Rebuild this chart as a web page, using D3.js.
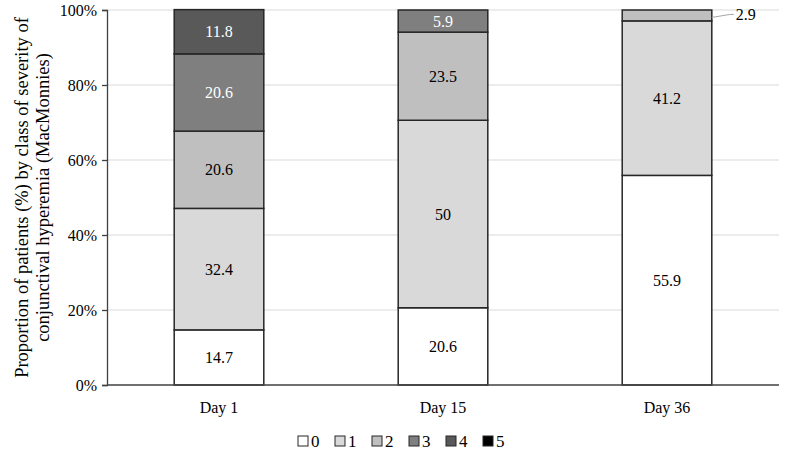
<!DOCTYPE html>
<html>
<head>
<meta charset="utf-8">
<script src="https://cdn.jsdelivr.net/npm/d3@7"></script>
<style>
  body { margin: 0; background: #fff; }
  svg text { font-family: "Liberation Serif", "DejaVu Serif", serif; }
</style>
</head>
<body>
<svg id="chart"></svg>
<script>
// chart data
const days = ["Day 1", "Day 15", "Day 36"];
const classes = ["0", "1", "2", "3", "4", "5"];
const class0 = [14.7, 20.6, 55.9];
const class1 = [32.4, 50, 41.2];
const class2 = [20.6, 23.5, 2.9];
const class3 = [20.6, 5.9, 0];
const class4 = [11.8, 0, 0];
const class5 = [0, 0, 0];
const yTicks = [0, 20, 40, 60, 80, 100];

const fills = ["#ffffff", "#d9d9d9", "#bfbfbf", "#7f7f7f", "#595959", "#000000"];
const labelColors = ["#000", "#000", "#000", "#fff", "#fff", "#fff"];

const width = 785, height = 454;
const marginLeft = 107, marginRight = 6, marginTop = 10, marginBottom = 69;
const fs = 16;

const rows = days.map((d, i) => ({
  day: d,
  "0": class0[i], "1": class1[i], "2": class2[i],
  "3": class3[i], "4": class4[i], "5": class5[i]
}));

const series = d3.stack().keys(classes)(rows);

const x = d3.scaleBand()
  .domain(days)
  .range([marginLeft, width - marginRight])
  .paddingInner(0.6)
  .paddingOuter(0.3);

const y = d3.scaleLinear()
  .domain([0, 100])
  .range([height - marginBottom, marginTop]);

const svg = d3.select("#chart")
  .attr("width", width)
  .attr("height", height)
  .attr("viewBox", [0, 0, width, height]);

// gridlines
svg.append("g")
  .selectAll("line")
  .data(yTicks.slice(1))
  .join("line")
  .attr("x1", marginLeft)
  .attr("x2", width - marginRight)
  .attr("y1", d => y(d))
  .attr("y2", d => y(d))
  .attr("stroke", "#d9d9d9")
  .attr("stroke-width", 1);

// bars
svg.append("g")
  .selectAll("g")
  .data(series)
  .join("g")
  .attr("fill", (s, i) => fills[i])
  .selectAll("rect")
  .data(s => s.filter(d => d.data[s.key] > 0))
  .join("rect")
  .attr("x", d => x(d.data.day))
  .attr("width", x.bandwidth())
  .attr("y", d => y(d[1]))
  .attr("height", d => y(d[0]) - y(d[1]))
  .attr("stroke", "#262626")
  .attr("stroke-width", 1.5);

// y axis
svg.append("g")
  .attr("transform", `translate(${marginLeft},0)`)
  .call(d3.axisLeft(y).tickValues(yTicks).tickFormat(d => d + "%").tickSize(5).tickPadding(5))
  .call(g => g.selectAll("path, line").attr("stroke", "#404040").attr("stroke-width", 1.3))
  .call(g => g.selectAll("text").attr("font-size", fs).attr("fill", "#000")
    .attr("font-family", "Liberation Serif, serif"));

// x axis
svg.append("g")
  .attr("transform", `translate(0,${y(0)})`)
  .call(d3.axisBottom(x).tickSize(0).tickPadding(17))
  .call(g => g.select(".domain").attr("stroke", "#404040").attr("stroke-width", 1.3)
    .attr("d", `M${marginLeft},0H${width - marginRight}`))
  .call(g => g.selectAll("text").attr("font-size", fs).attr("fill", "#000")
    .attr("font-family", "Liberation Serif, serif"));

// value labels
const labels = [];
series.forEach((s, k) => {
  s.forEach(d => {
    const v = d.data[s.key];
    if (v > 0) labels.push({ k, d, v });
  });
});

const inside = labels.filter(l => l.v >= 5);
const outside = labels.filter(l => l.v < 5);

svg.append("g")
  .selectAll("text")
  .data(inside)
  .join("text")
  .attr("x", l => x(l.d.data.day) + x.bandwidth() / 2)
  .attr("y", l => y((l.d[0] + l.d[1]) / 2))
  .attr("dy", "0.35em")
  .attr("text-anchor", "middle")
  .attr("font-size", fs)
  .attr("fill", l => labelColors[l.k])
  .text(l => String(l.v));

const out = svg.append("g");
outside.forEach(l => {
  const bx = x(l.d.data.day) + x.bandwidth();
  const by = y((l.d[0] + l.d[1]) / 2);
  out.append("path")
    .attr("d", `M${bx},${by + 2}L${bx + 18},${by - 1}L${bx + 22},${by - 1}`)
    .attr("fill", "none")
    .attr("stroke", "#a6a6a6")
    .attr("stroke-width", 1);
  out.append("text")
    .attr("x", bx + 24)
    .attr("y", by)
    .attr("dy", "0.3em")
    .attr("font-size", fs)
    .attr("fill", "#000")
    .text(String(l.v));
});

// y axis title
svg.append("text")
  .attr("transform", `translate(22,${(y(0) + y(100)) / 2}) rotate(-90)`)
  .attr("text-anchor", "middle")
  .attr("font-size", 18.5)
  .selectAll("tspan")
  .data(["Proportion of patients (%) by class of severity of", "conjunctival hyperemia (MacMonnies)"])
  .join("tspan")
  .attr("x", 0)
  .attr("dy", (d, i) => i === 0 ? "0.35em" : "1.1em")
  .text(d => d);

// legend
const legendX = d3.scalePoint().domain(classes).range([298, 483]);
const legend = svg.append("g")
  .attr("transform", `translate(0,441)`);
const item = legend.selectAll("g")
  .data(classes)
  .join("g")
  .attr("transform", c => `translate(${legendX(c)},0)`);
item.append("rect")
  .attr("x", 0)
  .attr("y", -5)
  .attr("width", 10)
  .attr("height", 10)
  .attr("fill", (c, i) => fills[i])
  .attr("stroke", "#262626")
  .attr("stroke-width", 1);
item.append("text")
  .attr("x", 13)
  .attr("dy", "0.35em")
  .attr("font-size", 17)
  .text(c => c);
</script>
</body>
</html>
